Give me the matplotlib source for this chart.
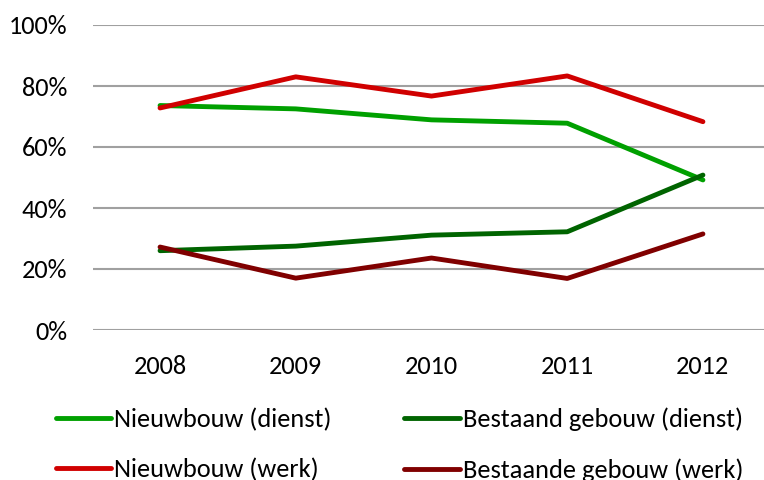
import matplotlib.pyplot as plt

plt.rcParams['font.family'] = ['Carlito', 'Lato', 'DejaVu Sans']

years = ['2008', '2009', '2010', '2011', '2012']
nieuwbouw_dienst = [73.6, 72.5, 68.9, 67.8, 49.2]
bestaand_dienst = [26.0, 27.5, 31.1, 32.2, 50.8]
nieuwbouw_werk = [72.8, 83.0, 76.7, 83.3, 68.3]
bestaande_werk = [27.2, 17.0, 23.6, 16.9, 31.5]

fig = plt.figure(figsize=(7.64, 4.8), dpi=100)
ax = fig.add_axes([93 / 764, 1 - 330 / 480, 1 - 93 / 764, (330 - 25) / 480])

x = range(len(years))
lw = 3.5
l1, = ax.plot(x, nieuwbouw_dienst, color='#00a000', lw=lw, solid_capstyle='round', label='Nieuwbouw (dienst)')
l2, = ax.plot(x, bestaand_dienst, color='#006400', lw=lw, solid_capstyle='round', label='Bestaand gebouw (dienst)')
l3, = ax.plot(x, nieuwbouw_werk, color='#d00000', lw=lw, solid_capstyle='round', label='Nieuwbouw (werk)')
l4, = ax.plot(x, bestaande_werk, color='#800000', lw=lw, solid_capstyle='round', label='Bestaande gebouw (werk)')

ax.set_xlim(-0.494, 4.45)
ax.set_ylim(0, 100)
ax.set_yticks(range(0, 101, 20))
ax.set_yticklabels([f'{v}%' for v in range(0, 101, 20)])
ax.set_xticks(list(x))
ax.set_xticklabels(years)
ax.grid(axis='y', color='#a0a0a0', lw=1.5)
ax.set_axisbelow(True)
for s in ax.spines.values():
    s.set_visible(False)
ax.tick_params(axis='both', length=0, labelsize=19)
ax.tick_params(axis='x', pad=18)
ax.tick_params(axis='y', pad=18.5)

fig.legend([l1, l3, l2, l4], [l1.get_label(), l3.get_label(), l2.get_label(), l4.get_label()],
           ncol=2, loc='upper left', bbox_to_anchor=(32 / 764, 1 - 384 / 480),
           frameon=False, fontsize=19, handlelength=2.1, handletextpad=0.12,
           columnspacing=2.75, labelspacing=1.02, borderpad=0.4)

fig.savefig('out.png', dpi=100)
